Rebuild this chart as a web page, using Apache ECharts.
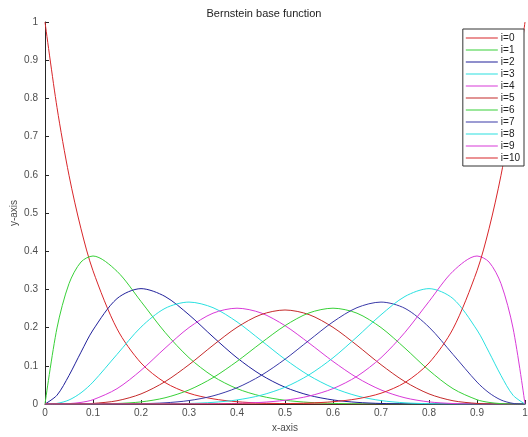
<!DOCTYPE html>
<html>
<head>
<meta charset="utf-8">
<script src="https://cdn.jsdelivr.net/npm/echarts@6/dist/echarts.min.js"></script>
<style>
  html, body { margin: 0; padding: 0; background: #fff; }
  #chart { width: 528px; height: 437px; }
</style>
</head>
<body>
<div id="chart"></div>
<script>
var xs = [0, 0.025, 0.05, 0.075, 0.1, 0.15, 0.2, 0.25, 0.3, 0.35, 0.4, 0.45, 0.5,
          0.55, 0.6, 0.65, 0.7, 0.75, 0.8, 0.85, 0.9, 0.925, 0.95, 0.975, 1];

var b0 = [1, .7763, .5987, .4586, .3487, .1969, .1074, .0563, .0282, .0135, .0060, .0025, .0010, .0003, .0001, 0, 0, 0, 0, 0, 0, 0, 0, 0, 0];
var b1 = [0, .1991, .3151, .3718, .3874, .3474, .2684, .1877, .1211, .0725, .0403, .0207, .0098, .0042, .0016, .0005, .0001, 0, 0, 0, 0, 0, 0, 0, 0];
var b2 = [0, .0230, .0746, .1357, .1937, .2759, .3020, .2816, .2335, .1757, .1209, .0763, .0439, .0229, .0106, .0043, .0014, .0004, .0001, 0, 0, 0, 0, 0, 0];
var b3 = [0, .0016, .0105, .0293, .0574, .1298, .2013, .2503, .2668, .2522, .2150, .1665, .1172, .0746, .0425, .0212, .0090, .0031, .0008, .0001, 0, 0, 0, 0, 0];
var b4 = [0, .0001, .0010, .0042, .0112, .0401, .0881, .1460, .2001, .2377, .2508, .2384, .2051, .1596, .1115, .0689, .0368, .0162, .0055, .0013, .0001, 0, 0, 0, 0];
var b5 = [0, 0, .0001, .0004, .0015, .0085, .0264, .0584, .1029, .1536, .2007, .2340, .2461, .2340, .2007, .1536, .1029, .0584, .0264, .0085, .0015, .0004, .0001, 0, 0];
var b6 = [0, 0, 0, 0, .0001, .0013, .0055, .0162, .0368, .0689, .1115, .1596, .2051, .2384, .2508, .2377, .2001, .1460, .0881, .0401, .0112, .0042, .0010, .0001, 0];
var b7 = [0, 0, 0, 0, 0, .0001, .0008, .0031, .0090, .0212, .0425, .0746, .1172, .1665, .2150, .2522, .2668, .2503, .2013, .1298, .0574, .0293, .0105, .0016, 0];
var b8 = [0, 0, 0, 0, 0, 0, .0001, .0004, .0014, .0043, .0106, .0229, .0439, .0763, .1209, .1757, .2335, .2816, .3020, .2759, .1937, .1357, .0746, .0230, 0];
var b9 = [0, 0, 0, 0, 0, 0, 0, 0, .0001, .0005, .0016, .0042, .0098, .0207, .0403, .0725, .1211, .1877, .2684, .3474, .3874, .3718, .3151, .1991, 0];
var b10 = [0, 0, 0, 0, 0, 0, 0, 0, 0, 0, .0001, .0003, .0010, .0025, .0060, .0135, .0282, .0563, .1074, .1969, .3487, .4586, .5987, .7763, 1];

var names = ['i=0', 'i=1', 'i=2', 'i=3', 'i=4', 'i=5', 'i=6', 'i=7', 'i=8', 'i=9', 'i=10'];
var curves = [b0, b1, b2, b3, b4, b5, b6, b7, b8, b9, b10];
var colors = ['#d8262a', '#38d038', '#20209a', '#2ae0e0', '#d83ad8',
              '#c42a2a', '#38d038', '#3a3aa8', '#2ae0e0', '#d83ad8', '#d8262a'];

var chart = echarts.init(document.getElementById('chart'));

var series = curves.map(function (ys, k) {
  return {
    name: names[k],
    type: 'line',
    data: xs.map(function (x, j) { return [x, ys[j]]; }),
    symbol: 'none',
    smooth: 0.3,
    silent: true,
    lineStyle: { width: 1, color: colors[k] },
    itemStyle: { color: colors[k] }
  };
});

var axisText = { color: '#4d4d4d', fontSize: 10, fontFamily: 'Liberation Sans, Arial' };

chart.setOption({
  animation: false,
  backgroundColor: '#fff',
  title: {
    text: 'Bernstein base function',
    left: 'center',
    top: 3,
    textStyle: { fontSize: 11, fontWeight: 'normal', color: '#222', fontFamily: 'Liberation Sans, Arial' }
  },
  legend: {
    orient: 'vertical',
    right: 4,
    top: 29,
    data: names,
    icon: 'rect',
    itemWidth: 32,
    itemHeight: 1,
    itemGap: 0,
    padding: [3, 4, 2, 3],
    borderColor: '#333',
    borderWidth: 1,
    backgroundColor: '#fff',
    textStyle: { fontSize: 10, lineHeight: 12, color: '#222', padding: [0, 0, 0, -2], fontFamily: 'Liberation Sans, Arial' }
  },
  grid: { left: 45, right: 3, top: 22, bottom: 33, containLabel: false, outerBoundsMode: 'none' },
  xAxis: {
    type: 'value',
    min: 0,
    max: 1,
    interval: 0.1,
    name: 'x-axis',
    nameLocation: 'middle',
    nameGap: 19,
    nameMoveOverlap: false,
    nameTextStyle: axisText,
    axisLine: { lineStyle: { color: '#262626' } },
    axisTick: { inside: true, length: 4, lineStyle: { color: '#262626' } },
    axisLabel: Object.assign({ margin: 4 }, axisText),
    splitLine: { show: false }
  },
  yAxis: {
    type: 'value',
    min: 0,
    max: 1,
    interval: 0.1,
    name: 'y-axis',
    nameLocation: 'middle',
    nameGap: 26,
    nameMoveOverlap: false,
    nameTextStyle: axisText,
    axisLine: { show: true, lineStyle: { color: '#262626' } },
    axisTick: { show: true, inside: true, length: 4, lineStyle: { color: '#262626' } },
    axisLabel: Object.assign({ margin: 7 }, axisText),
    splitLine: { show: false }
  },
  series: series
});
</script>
</body>
</html>
